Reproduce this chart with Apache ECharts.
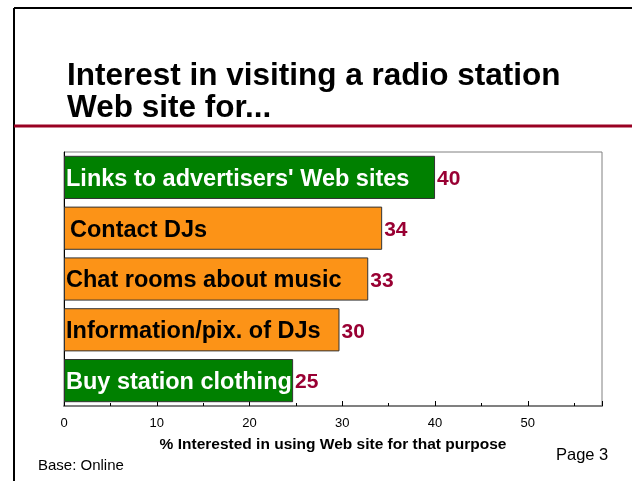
<!DOCTYPE html>
<html><head><meta charset="utf-8">
<script src="https://cdn.jsdelivr.net/npm/echarts@6/dist/echarts.min.js"></script>
<style>html,body{margin:0;padding:0;background:#fff}#c{width:632px;height:481px}</style>
</head><body><div id="c"></div>
<script>
const categories = ["Links to advertisers' Web sites", "Contact DJs", "Chat rooms about music", "Information/pix. of DJs", "Buy station clothing"];
const values = [40, 34.3, 32.8, 29.7, 24.7];
const valueLabels = ["40", "34", "33", "30", "25"];
const barColors = ["#008000", "#FC9317", "#FC9317", "#FC9317", "#008000"];
const labelColors = ["#ffffff", "#000000", "#000000", "#000000", "#ffffff"];
const xTicks = [0, 10, 20, 30, 40, 50];

const chart = echarts.init(document.getElementById('c'), null, {renderer: 'canvas'});
const FONT = '"Liberation Sans", Arial, sans-serif';
const labelDist = [2, 6, 2, 2, 2];
chart.setOption({
  animation: false,
  textStyle: {fontFamily: FONT},
  grid: {left: 64, top: 152, right: 30, bottom: 75, show: true, borderColor: '#808080', borderWidth: 1, backgroundColor: 'transparent'},
  xAxis: {
    type: 'value', min: 0, max: 58, interval: 10,
    axisLine: {show: true, lineStyle: {color: '#808080', width: 2}},
    axisTick: {show: true, inside: true, length: 5, lineStyle: {color: '#000'}},
    minorTick: {show: true, splitNumber: 2, length: 3, lineStyle: {color: '#000'}},
    splitLine: {show: false},
    axisLabel: {color: '#000', fontSize: 13, margin: 11, fontFamily: FONT,
      formatter: v => xTicks.includes(v) ? String(v) : ''},
    name: '% Interested in using Web site for that purpose',
    nameLocation: 'middle', nameGap: 31,
    nameTextStyle: {color: '#000', fontSize: 15.5, fontWeight: 'bold', fontFamily: FONT}
  },
  yAxis: {
    type: 'category', data: categories, inverse: true,
    axisLine: {show: true, lineStyle: {color: '#000', width: 1}},
    axisTick: {show: false}, axisLabel: {show: false}, splitLine: {show: false}
  },
  series: [
    {
      type: 'bar', barWidth: '85%',
      data: values.map((v, i) => ({value: v, itemStyle: {color: barColors[i]},
        label: {color: labelColors[i], distance: labelDist[i]}})),
      itemStyle: {borderColor: '#333', borderWidth: 1},
      label: {show: true, position: 'insideLeft', distance: 2, offset: [0, 2],
        formatter: p => categories[p.dataIndex],
        fontSize: 23.5, fontWeight: 'bold', fontFamily: FONT}
    },
    {
      type: 'bar', barWidth: '85%', barGap: '-100%', silent: true,
      data: values,
      itemStyle: {color: 'transparent'},
      label: {show: true, position: 'right', distance: 2, offset: [0, 2],
        formatter: p => valueLabels[p.dataIndex],
        color: '#990033', fontSize: 21, fontWeight: 'bold', fontFamily: FONT}
    }
  ],
  graphic: [
    {type: 'line', shape: {x1: 14, y1: 8, x2: 632, y2: 8}, style: {stroke: '#000', lineWidth: 2}},
    {type: 'line', shape: {x1: 14, y1: 8, x2: 14, y2: 481}, style: {stroke: '#000', lineWidth: 2}},
    {type: 'line', shape: {x1: 14, y1: 126, x2: 632, y2: 126}, style: {stroke: '#990022', lineWidth: 3}},
    {type: 'text', left: 67, top: 60, style: {text: 'Interest in visiting a radio station\nWeb site for...',
      font: 'bold 31.5px ' + FONT, fill: '#000', lineHeight: 32}},
    {type: 'text', left: 38, top: 458, style: {text: 'Base: Online', font: '15px ' + FONT, fill: '#000'}},
    {type: 'text', left: 556, top: 447, style: {text: 'Page 3', font: '16.5px ' + FONT, fill: '#000'}}
  ]
});
</script></body></html>
